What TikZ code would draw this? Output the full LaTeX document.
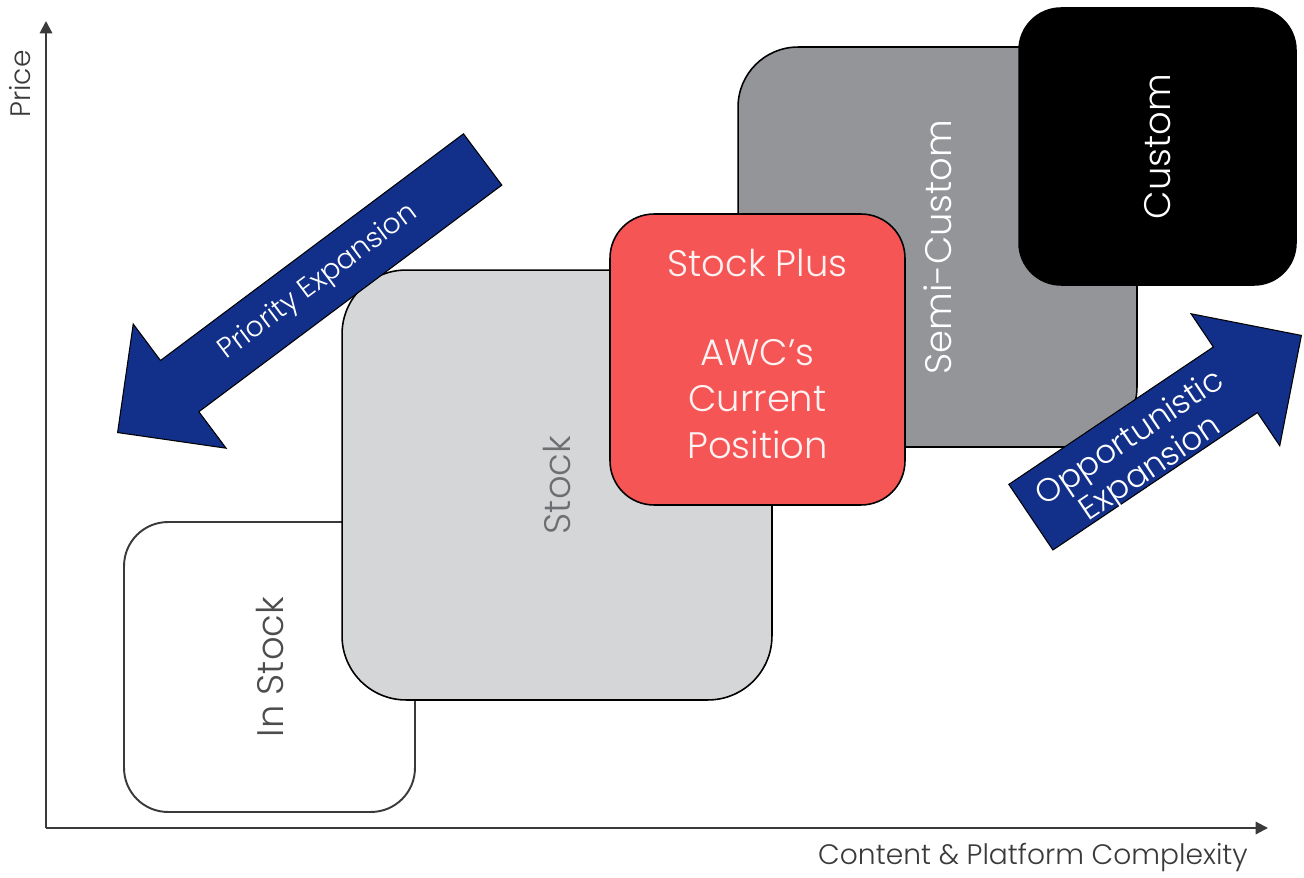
\documentclass[tikz,border=0pt]{standalone}
\usepackage{fontspec}
\setmainfont{Poppins Light}
\usetikzlibrary{arrows.meta, shapes.arrows, calc}
\definecolor{Navy}   {HTML}{12308A}
\definecolor{Coral}  {HTML}{F65555}
\definecolor{LGray}  {HTML}{D5D6D8}
\definecolor{MGray}  {HTML}{939598}
\definecolor{DGray}  {HTML}{4D4D4D}
\definecolor{TGray}  {HTML}{6D6E71}
\definecolor{AxGray} {HTML}{3A3A3A}
\definecolor{PinkW}  {HTML}{FFF2F2}
\tikzset{
  tier/.style args={#1/#2}{
    rectangle, draw=black, fill=#1, text=#2,
    line width=0.9pt, inner sep=0pt, align=center,
    font=\fontsize{21}{26.5}\selectfont,
  },
  expn/.style={
    single arrow, draw=black, fill=Navy, line width=0.6pt,
    inner sep=0pt, text depth=0pt,
    single arrow tip angle=90, single arrow head indent=0pt,
  },
  elbl/.style={
    text=white, align=center, font=\fontsize{16}{20}\selectfont,
  },
  axis/.style={
    -{Triangle[length=7pt,width=7pt]}, line width=1.2pt, draw=AxGray,
  },
  albl/.style={text=AxGray, font=\fontsize{16}{18}\selectfont},
}
\begin{document}
\begin{tikzpicture}[x=0.02cm,y=-0.02cm]
  \useasboundingbox (0,0) rectangle (1304,878);
  % axes
  \coordinate (o)    at (46,828);
  \coordinate (ytop) at (46,21);
  \coordinate (xend) at (1268,828);
  \draw[axis] (o) -- (ytop);
  \draw[axis] (o) -- (xend);
  \node[albl, rotate=90] (price) at (20,84) {Price};
  \node[albl] (cplx) at (1033,857) {Content \& Platform Complexity};

  % product tiers, back to front
  \node[tier=white/DGray, rotate=90, minimum width=5.8cm, minimum height=5.82cm,
        rounded corners=0.88cm, draw=AxGray, line width=1.1pt] (instock) at (269.5,667) {In Stock};
  \node[tier=LGray/TGray, rotate=90, minimum width=8.6cm, minimum height=8.6cm,
        rounded corners=1.28cm] (stock) at (557,485) {Stock};
  \node[tier=MGray/white, rotate=90, minimum width=8.0cm, minimum height=7.98cm,
        rounded corners=1.2cm] (semi) at (937.5,247) {Semi-Custom};
  \node[tier=Coral/PinkW, minimum width=5.9cm, minimum height=5.82cm,
        rounded corners=0.88cm] (plus) at (757.5,359.5) {Stock Plus\\[24pt]AWC's\\Current\\Position\\[-20pt]\mbox{}};
  \node[tier=black/white, rotate=90, minimum width=5.54cm, minimum height=5.54cm,
        rounded corners=0.84cm] (custom) at (1157.5,146.5) {Custom};

  % expansion arrows
  \node[expn, rotate=216.8, anchor=tip, minimum height=9.12cm, text height=1.26cm,
        single arrow head extend=0.91cm] (prio) at (117,433) {};
  \node[elbl, rotate=36.8] (priolbl) at ($(prio.tail)!0.45!(prio.tip)$) {Priority Expansion};
  \node[expn, rotate=33.9, anchor=tip, minimum height=6.52cm, text height=1.56cm,
        single arrow head extend=0.8cm] (oppo) at (1302,335) {};
  \node[elbl, rotate=33.9, font=\fontsize{18.5}{21}\selectfont] (oppolbl)
        at ($(oppo.tail)!0.4!(oppo.tip) + (2,10)$) {Opportunistic\\Expansion};
\end{tikzpicture}
\end{document}
